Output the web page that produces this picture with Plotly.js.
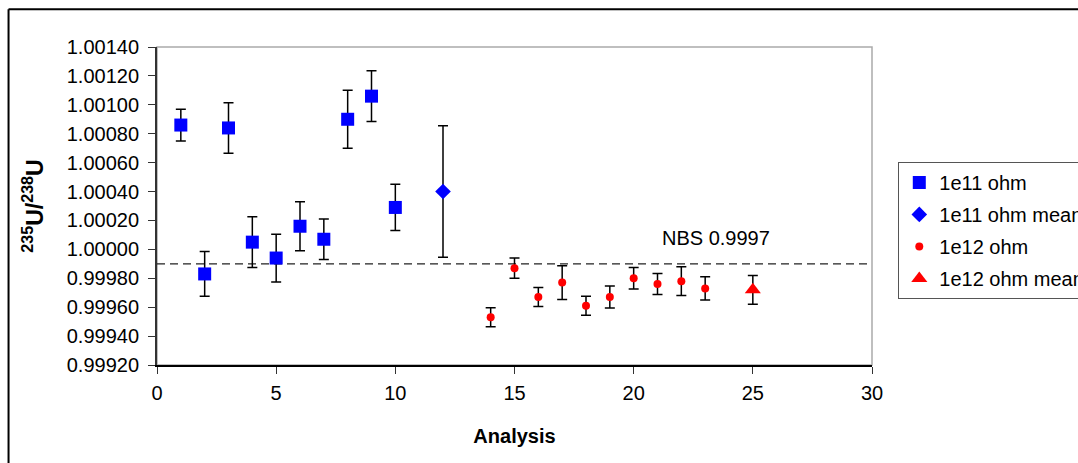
<!DOCTYPE html>
<html>
<head>
<meta charset="utf-8">
<script src="https://cdn.plot.ly/plotly-3.0.1.min.js"></script>
<style>
html,body{margin:0;padding:0;background:#fff;}
#chart{width:1078px;height:463px;}
</style>
</head>
<body>
<div id="chart"></div>
<script>
// ---- data ----
const ohm11X = [1, 2, 3, 4, 5, 6, 7, 8, 9, 10];
const ohm11Y = [1.00086, 0.99983, 1.00084, 1.00005, 0.99994, 1.00016, 1.00007, 1.00090, 1.00106, 1.00029];
const ohm11Err = [0.00011, 0.000155, 0.000175, 0.000175, 0.000165, 0.00017, 0.00014, 0.0002, 0.000175, 0.00016];

const mean11X = [12];
const mean11Y = [1.00040];
const mean11Err = [0.000455];

const ohm12X = [14, 15, 16, 17, 18, 19, 20, 21, 22, 23];
const ohm12Y = [0.99953, 0.99987, 0.99967, 0.99977, 0.99961, 0.99967, 0.99980, 0.99976, 0.99978, 0.99973];
const ohm12Err = [0.000066, 0.00007, 0.000066, 0.000117, 0.000065, 0.000076, 0.000075, 0.000073, 0.0001, 0.00008];

const mean12X = [25];
const mean12Y = [0.99972];
const mean12Err = [0.0001];

const nbsX = [0, 30];
const nbsY = [0.9999, 0.9999];
const nbsLabel = "NBS 0.9997";
const nbsLabelPos = [23.47, 1.00008];

const seriesNames = ["1e11 ohm", "1e11 ohm mean", "1e12 ohm", "1e12 ohm mean"];
const xTitle = "Analysis";
const yTitle = "<sup>235</sup>U/<sup>238</sup>U";

// ---- chart ----
const FONT = "Liberation Sans, Arial, sans-serif";
const W = 1078, H = 463;
const L = 156.5, R = 871.7, T = 46.7, B = 365;
const pw = R - L, ph = B - T;
const px = v => (v - L) / pw;
const py = v => (B - v) / ph;

function errBar(arr) {
  return {type: 'data', array: arr, visible: true, color: '#000', thickness: 1.5, width: 5};
}

const traces = [
  {x: nbsX, y: nbsY, mode: 'lines', showlegend: false, hoverinfo: 'skip',
   line: {color: '#222', width: 1.3, dash: '8px,5px'}},
  {x: ohm11X, y: ohm11Y, name: seriesNames[0], mode: 'markers', type: 'scatter', legendgroup: 'a',
   marker: {symbol: 'square', size: 13, color: '#0000ff'}, error_y: errBar(ohm11Err)},
  {x: mean11X, y: mean11Y, name: seriesNames[1], mode: 'markers', type: 'scatter', legendgroup: 'b',
   marker: {symbol: 'diamond', size: 12, color: '#0000ff'}, error_y: errBar(mean11Err)},
  {x: ohm12X, y: ohm12Y, name: seriesNames[2], mode: 'markers', type: 'scatter', legendgroup: 'c',
   marker: {symbol: 'circle', size: 8, color: '#ff0000'}, error_y: errBar(ohm12Err)},
  {x: mean12X, y: mean12Y, name: seriesNames[3], mode: 'markers', type: 'scatter', legendgroup: 'd',
   marker: {symbol: 'triangle-up', size: 14, color: '#ff0000'}, error_y: errBar(mean12Err)}
];

const layout = {
  width: W, height: H,
  margin: {l: L, r: W - R, t: T, b: H - B, pad: 0, autoexpand: false},
  paper_bgcolor: '#fff', plot_bgcolor: '#fff',
  font: {family: FONT, size: 20, color: '#000'},
  showlegend: true,
  legend: {
    x: px(898), y: py(161.7), xanchor: 'left', yanchor: 'top',
    bordercolor: '#555', borderwidth: 1, bgcolor: '#fff',
    font: {family: FONT, size: 20, color: '#000'},
    traceorder: 'grouped', tracegroupgap: 3
  },
  xaxis: {
    range: [0, 30], dtick: 5, tick0: 0,
    showgrid: false, zeroline: false,
    showline: true, linecolor: '#000', linewidth: 1.5,
    ticks: 'outside', ticklen: 7, tickcolor: '#333', tickwidth: 1,
    ticklabelstandoff: 2,
    tickfont: {family: FONT, size: 20, color: '#000'},
    title: {text: '<b>' + xTitle + '</b>', font: {family: FONT, size: 20, color: '#000'}, standoff: 26}
  },
  yaxis: {
    range: [0.9992, 1.0014], dtick: 0.0002, tick0: 0.9992, tickformat: '.5f',
    showgrid: false, zeroline: false,
    showline: true, linecolor: '#333', linewidth: 2,
    ticks: 'outside', ticklen: 7, tickcolor: '#333', tickwidth: 1,
    ticklabelstandoff: 5,
    tickfont: {family: FONT, size: 20, color: '#000'},
    title: {text: '<b>' + yTitle + '</b>', font: {family: FONT, size: 23, color: '#000'}, standoff: 17}
  },
  annotations: [{
    x: nbsLabelPos[0], y: nbsLabelPos[1], xref: 'x', yref: 'y', text: nbsLabel,
    showarrow: false, font: {family: FONT, size: 20, color: '#000'}
  }],
  shapes: [
    {type: 'rect', xref: 'paper', yref: 'paper', x0: 0, x1: 1, y0: 0, y1: 1,
     line: {color: '#aaa', width: 1.5}, layer: 'below'},
    {type: 'line', xref: 'paper', yref: 'paper', x0: px(8), x1: px(8), y0: py(9), y1: py(470),
     line: {color: '#000', width: 2}},
    {type: 'line', xref: 'paper', yref: 'paper', x0: px(8), x1: px(1090), y0: py(9), y1: py(9),
     line: {color: '#000', width: 2}}
  ]
};

Plotly.newPlot('chart', traces, layout, {displayModeBar: false, staticPlot: true});
</script>
</body>
</html>
